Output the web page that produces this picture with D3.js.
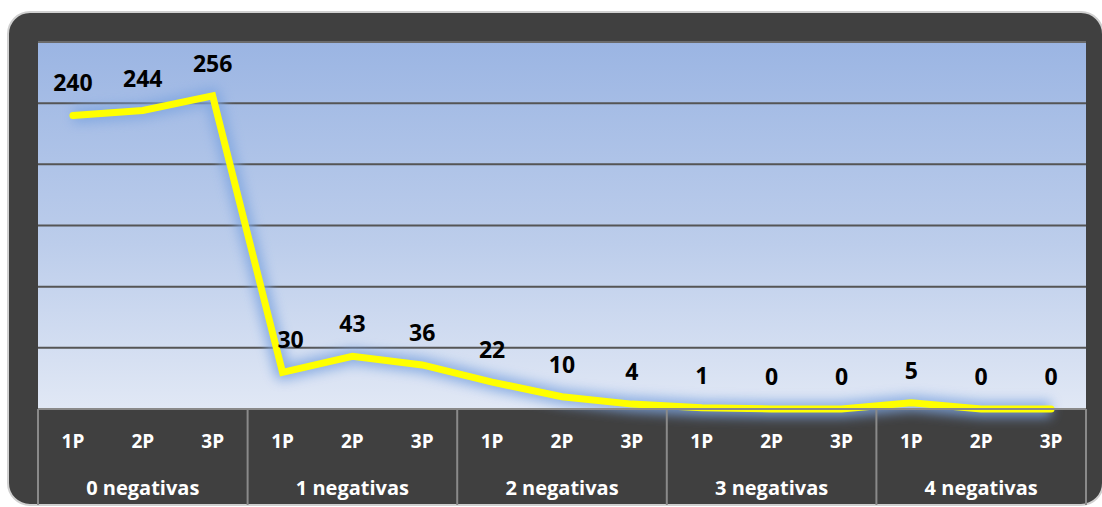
<!DOCTYPE html>
<html><head><meta charset="utf-8">
<script src="https://cdn.jsdelivr.net/npm/d3@7"></script>
<style>body{margin:0;background:#fff;}svg{display:block;}</style>
</head><body>
<svg id="c" width="1102" height="507"></svg>
<script>
const groups = ["0 negativas","1 negativas","2 negativas","3 negativas","4 negativas"];
const periods = ["1P","2P","3P"];
const values = [240,244,256, 30,43,36, 22,10,4, 1,0,0, 5,0,0];
const yTicks = [0,50,100,150,200,250,300];

const svg = d3.select("#c");
const W = 1102, H = 507;
const L = 38, R = 1086, T = 42, B = 409;
const FONT = "'Open Sans', Lato, sans-serif";

const defs = svg.append("defs");
const grad = defs.append("linearGradient").attr("id","bg").attr("x1",0).attr("y1",0).attr("x2",0).attr("y2",1);
grad.append("stop").attr("offset","0%").attr("stop-color","#9bb5e3");
grad.append("stop").attr("offset","55%").attr("stop-color","#bccdeb");
grad.append("stop").attr("offset","100%").attr("stop-color","#e1e8f5");
const f = defs.append("filter").attr("id","glow").attr("x","-10%").attr("y","-10%").attr("width","120%").attr("height","120%");
f.append("feGaussianBlur").attr("stdDeviation",6);

// outer frame
svg.append("rect").attr("x",8).attr("y",12).attr("width",W-7).attr("height",H-14).attr("rx",22)
  .attr("fill","#404040").attr("stroke","#d0d0d0").attr("stroke-width",2);

svg.append("rect").attr("x",L).attr("y",T).attr("width",R-L).attr("height",B-T).attr("fill","url(#bg)");

const cats = values.map((v,i)=>i);
const x = d3.scaleBand().domain(cats).range([L,R]).padding(0);
const y = d3.scaleLinear().domain([0,300]).range([B,T]);

// gridlines
svg.append("g").selectAll("line").data(yTicks.filter(t=>t>0)).join("line")
  .attr("x1",L).attr("x2",R).attr("y1",d=>y(d)).attr("y2",d=>y(d))
  .attr("stroke",d=>d===300?"#6a6a6a":"#555").attr("stroke-width",2);

// line with glow
const line = d3.line().x((d,i)=>x(i)+x.bandwidth()/2).y(d=>y(d));
svg.append("path").datum(values).attr("d",line).attr("fill","none")
  .attr("stroke","#7fa6e0").attr("stroke-width",16).attr("stroke-linejoin","round").attr("filter","url(#glow)").attr("opacity",0.85);
svg.append("path").datum(values).attr("d",line).attr("fill","none")
  .attr("stroke","#ffff00").attr("stroke-width",7).attr("stroke-linejoin","miter").attr("stroke-linecap","round");

// data labels
svg.append("g").selectAll("text").data(values).join("text")
  .attr("x",(d,i)=>x(i)+x.bandwidth()/2 + (i===3?8:0))
  .attr("y",d=>y(d)-24)
  .attr("text-anchor","middle")
  .attr("font-family",FONT).attr("font-weight","bold").attr("font-size",23)
  .attr("fill","#000").text(d=>d);

// axis separators
const sepX = d3.range(groups.length+1).map(g=> g===groups.length ? R : x(g*3));
svg.append("g").selectAll("line").data(sepX).join("line")
  .attr("x1",d=>d).attr("x2",d=>d).attr("y1",B).attr("y2",505)
  .attr("stroke","#8a8a8a").attr("stroke-width",2);
svg.append("line").attr("x1",L).attr("x2",R).attr("y1",B).attr("y2",B).attr("stroke","#8a8a8a").attr("stroke-width",2);

// period labels
svg.append("g").selectAll("text").data(values).join("text")
  .attr("x",(d,i)=>x(i)+x.bandwidth()/2).attr("y",448)
  .attr("text-anchor","middle").attr("font-family",FONT).attr("font-weight","bold").attr("font-size",19)
  .attr("fill","#fff").text((d,i)=>periods[i%3]);

// group labels
svg.append("g").selectAll("text").data(groups).join("text")
  .attr("x",(d,g)=>(x(g*3)+ (g===groups.length-1?R:x(g*3+3)))/2).attr("y",495)
  .attr("text-anchor","middle").attr("font-family",FONT).attr("font-weight","bold").attr("font-size",20)
  .attr("fill","#fff").text(d=>d);
</script>
</body></html>
